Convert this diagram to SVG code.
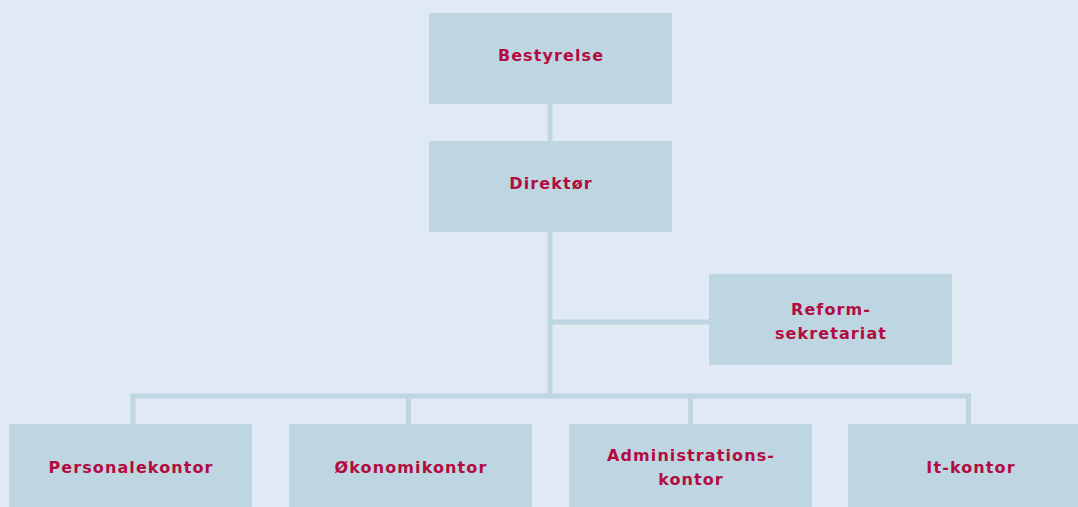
<svg xmlns="http://www.w3.org/2000/svg" width="1078" height="507" viewBox="0 0 1078 507">
<style>
.box{fill:#bed6e1;}
.lbl{font-family:"DejaVu Sans",sans-serif;font-weight:bold;font-size:16px;letter-spacing:1.1px;fill:#b20c40;text-anchor:middle;}
.con{fill:none;stroke:#bed6e1;stroke-width:5;stroke-linejoin:miter;}
</style>
<rect width="1078" height="507" fill="#e0eaf5"/>
<g id="connectors">
<path class="con" d="M550,104 V396"/>
<path class="con" d="M550,322 H709"/>
<path class="con" d="M133,424 V396 H968.5 V424"/>
<path class="con" d="M408.5,396 V424"/>
<path class="con" d="M690.5,396 V424"/>
</g>
<g id="bestyrelse">
<rect class="box" x="429" y="13" width="243" height="91"/>
<text class="lbl" x="551" y="61">Bestyrelse</text>
</g>
<g id="direktor">
<rect class="box" x="429" y="141" width="243" height="91"/>
<text class="lbl" x="551" y="189">Direktør</text>
</g>
<g id="reform">
<rect class="box" x="709" y="274" width="243" height="91"/>
<text class="lbl" x="831" y="315">Reform-</text>
<text class="lbl" x="831" y="339">sekretariat</text>
</g>
<g id="personale">
<rect class="box" x="9" y="424" width="243" height="100"/>
<text class="lbl" x="131" y="473">Personalekontor</text>
</g>
<g id="okonomi">
<rect class="box" x="289" y="424" width="243" height="100"/>
<text class="lbl" x="411" y="473">Økonomikontor</text>
</g>
<g id="administration">
<rect class="box" x="569" y="424" width="243" height="100"/>
<text class="lbl" x="691" y="461">Administrations-</text>
<text class="lbl" x="691" y="485">kontor</text>
</g>
<g id="it">
<rect class="box" x="848" y="424" width="243" height="100"/>
<text class="lbl" x="971" y="473">It-kontor</text>
</g>
</svg>
